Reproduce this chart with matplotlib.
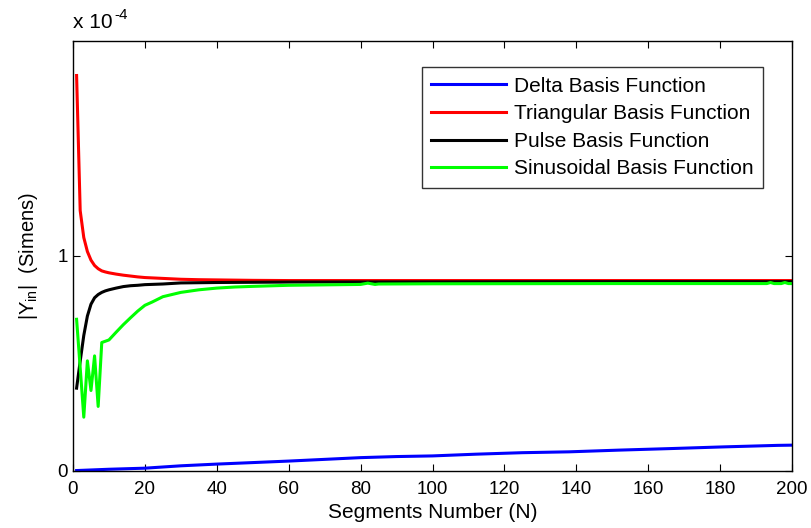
import matplotlib
matplotlib.use("Agg")
import matplotlib.pyplot as plt

plt.rcParams['font.family'] = ['Liberation Sans', 'DejaVu Sans']
plt.rcParams['mathtext.fontset'] = 'custom'
plt.rcParams['mathtext.rm'] = 'Liberation Sans'
plt.rcParams['mathtext.it'] = 'Liberation Sans:italic'

# values in units of 1e-4 Siemens
delta_n = [1, 10, 20, 30, 40, 50, 60, 70, 80, 90, 100, 112, 125, 138, 152, 166, 181, 196, 200]
delta_y = [0.002, 0.008, 0.013, 0.024, 0.032, 0.039, 0.046, 0.054, 0.062, 0.067, 0.070, 0.078, 0.085, 0.089, 0.097, 0.104, 0.112, 0.119, 0.120]

tri_n = [1, 2, 3, 4, 5, 6, 7, 8, 9, 10, 12, 14, 16, 18, 20, 25, 30, 35, 40, 50, 60, 80, 100, 150, 200]
tri_y = [1.838, 1.21, 1.085, 1.02, 0.98, 0.955, 0.94, 0.93, 0.925, 0.921, 0.915, 0.91, 0.906, 0.902, 0.899,
         0.895, 0.891, 0.889, 0.888, 0.886, 0.885, 0.885, 0.885, 0.885, 0.885]

pulse_n = [1, 2, 3, 4, 5, 6, 7, 8, 9, 10, 12, 14, 16, 18, 20, 25, 30, 40, 50, 60, 100, 150, 200]
pulse_y = [0.385, 0.51, 0.63, 0.72, 0.775, 0.805, 0.82, 0.83, 0.837, 0.842, 0.85, 0.857, 0.861, 0.863, 0.866,
           0.869, 0.874, 0.876, 0.877, 0.878, 0.879, 0.88, 0.88]

sin_n = [1, 2, 3, 4, 5, 6, 7, 8, 9, 10, 12, 14, 16, 18, 20, 22, 25, 30, 35, 40, 45, 50, 60, 70, 80,
         82, 84, 85, 100, 150, 193, 194, 195, 197, 198, 199, 200]
sin_y = [0.705, 0.48, 0.25, 0.512, 0.374, 0.535, 0.30, 0.597, 0.603, 0.609, 0.645, 0.68, 0.712, 0.743, 0.77,
         0.785, 0.81, 0.83, 0.842, 0.85, 0.855, 0.858, 0.863, 0.865, 0.867,
         0.873, 0.867, 0.869, 0.870, 0.871, 0.871, 0.876, 0.871, 0.871, 0.876, 0.871, 0.871]

labels = ['Delta Basis Function', 'Triangular Basis Function', 'Pulse Basis Function', 'Sinusoidal Basis Function']
colors = ['#0000ff', '#ff0000', '#000000', '#00ff00']

x_ticks = list(range(0, 201, 20))
y_ticks = [0, 1]

fig = plt.figure(figsize=(8.12, 5.28), dpi=100)
ax = fig.add_axes([0.0899, 0.108, 0.8855, 0.815])

series = [(delta_n, delta_y), (tri_n, tri_y), (pulse_n, pulse_y), (sin_n, sin_y)]
for (xs, ys), lab, c in zip(series, labels, colors):
    ax.plot(xs, ys, color=c, lw=2.2, label=lab)

ax.set_xlim(0, 200)
ax.set_ylim(0, 2)
ax.set_xticks(x_ticks)
ax.set_yticks(y_ticks)
ax.set_yticklabels(['0', '1'])
ax.tick_params(direction='in', top=True, right=True, length=5, width=0.8, labelsize=13.5)
ax.tick_params(axis='x', pad=7.5)
ax.tick_params(axis='y', pad=3.5)
for s in ax.spines.values():
    s.set_linewidth(1.0)

ax.set_xlabel('Segments Number (N)', fontsize=15, labelpad=3)
ax.set_ylabel(r'|Y$_{\mathrm{in}}$|  (Simens)', fontsize=14.5, labelpad=13)
t1 = ax.text(0, 1.02, 'x 10', transform=ax.transAxes, fontsize=15, ha='left', va='bottom')
ax.annotate('-4', xy=(1, 0.55), xycoords=t1, xytext=(1, 0), textcoords='offset points',
            fontsize=11, ha='left', va='bottom')

leg = ax.legend(loc='upper right', bbox_to_anchor=(0.96, 0.938), fontsize=15, frameon=True,
                fancybox=False, edgecolor='black', handlelength=3.6, handletextpad=0.4,
                labelspacing=0.41, borderpad=0.45, borderaxespad=0)
leg.get_frame().set_linewidth(1.0)

fig.savefig('out.png', dpi=100)
